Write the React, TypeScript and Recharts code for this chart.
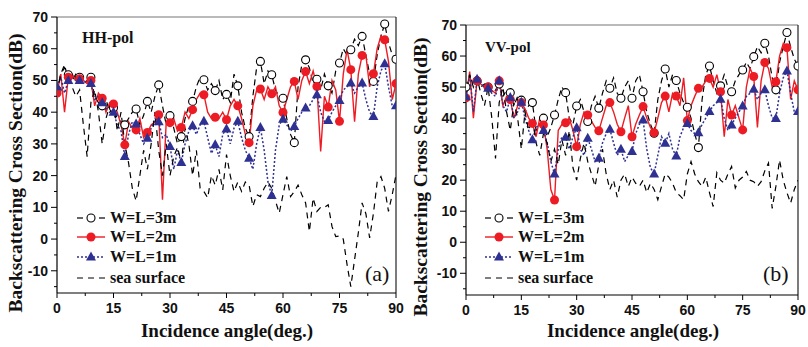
import { LineChart, Line, XAxis, YAxis, ReferenceLine } from "recharts";

// incidence angle, 1 deg steps
const angles = [
  0, 1, 2, 3, 4, 5, 6, 7, 8, 9, 10, 11, 12, 13, 14, 15, 16, 17, 18, 19, 20, 21, 22, 23, 24, 25, 26, 27, 28, 29,
  30, 31, 32, 33, 34, 35, 36, 37, 38, 39, 40, 41, 42, 43, 44, 45, 46, 47, 48, 49, 50, 51, 52, 53, 54, 55, 56, 57, 58, 59,
  60, 61, 62, 63, 64, 65, 66, 67, 68, 69, 70, 71, 72, 73, 74, 75, 76, 77, 78, 79, 80, 81, 82, 83, 84, 85, 86, 87, 88, 89, 90,
];

// HH-pol
const hh3m = [
  47, 52, 54, 51.8, 50, 52, 51, 49, 50, 51, 45, 43, 42, 44, 40, 41.4, 38, 37, 36, 38, 40, 41, 36, 39, 43.4, 40, 45, 48.6, 42, 36,
  38.9, 35, 30, 32.3, 38, 42, 43.4, 48, 51, 50.2, 47, 49, 46.8, 50, 44, 45.6, 43, 52, 48.3, 40, 35, 32.3, 45, 54, 56, 49, 53, 51.8, 47, 45,
  44.4, 38, 33, 30.4, 48, 55, 56.5, 54, 49, 50.4, 47, 52, 48.3, 46, 53, 55.5, 60, 58, 59.7, 63, 61, 63.9, 58, 52, 49.7, 58, 64, 67.8, 62, 58, 56.7,
];
const hh2m = [
  46, 52, 40, 51, 52, 50, 50.5, 50, 49, 50, 42, 46, 44.4, 40, 43, 42.6, 40, 36, 29.7, 37, 35, 34.4, 38, 32, 33.6, 36, 37, 39.2, 12.4, 37,
  36.7, 38, 34, 35.2, 40, 38, 40.8, 44, 46, 45.5, 40, 38, 38.4, 38, 40, 37.6, 42, 44, 42, 38, 33, 30.4, 42, 47, 47.3, 44, 48, 45.8, 48, 42,
  39.9, 44, 48, 49.7, 44, 50, 52.8, 49, 53, 48.1, 27.6, 45, 41.6, 50, 47, 37.1, 52, 59.7, 53.4, 37, 52, 57.9, 58, 48, 52.1, 60, 64, 62.8, 56, 44, 49,
];
const hh1m = [
  48, 51, 46, 50, 51, 50, 50, 49, 50, 49, 44, 45, 43, 41, 42, 40, 36, 34, 26, 33, 37, 36.3, 33, 30, 31.8, 35, 38, 37, 32, 33,
  29.2, 22, 28, 24.1, 30, 34, 35.7, 33, 36, 37.1, 32, 27, 29.7, 26, 33, 34.7, 30, 35, 37.1, 32, 28, 25.5, 22, 30, 35.2, 28, 18, 13.7, 28, 36,
  37.8, 36, 34, 35.5, 38, 40, 41.3, 42, 44, 45.5, 40, 37, 37.4, 40, 42, 43.7, 47, 48, 49.2, 46, 48, 49.2, 44, 40, 38.6, 48, 53, 55.3, 48, 42, 42,
];
const hhSea = [
  46, 52, 55, 50, 48, 45, 47, 36, 26, 43, 47, 40, 30, 38, 42, 44, 34, 40, 30, 24, 16, 12, 20, 28, 22, 30, 40, 28, 20, 30,
  20, 26, 29, 24, 35, 30, 20, 28, 16, 15, 13, 20, 17, 22, 15.5, 26.6, 20, 15, 18, 15, 18, 17, 10.3, 14, 13.4, 16, 18, 16, 12, 8.2,
  14, 19.7, 13.4, 15, 17, 14, 11.4, 2.4, 12.9, 8.7, 10, 10, 10.8, 4, 0.8, 1, 0, -8, -15, -6.5, 2, 11.4, 8, 0.4, 8, 18, 19.7, 16, 8.7, 14, 20.3,
];

// VV-pol
const vv3m = [
  50, 53, 51, 52, 50, 51, 50, 48, 49, 51, 47, 49, 48.2, 44, 47, 45.8, 42, 44, 45, 36, 38, 40, 34, 37, 41, 46, 50, 48.2, 40, 38,
  43.9, 46, 42, 38.9, 44, 47, 43.2, 48, 52, 49.6, 53, 48, 46.4, 50, 52, 46.4, 52, 54, 48.5, 42, 38, 35.1, 46, 52, 55.8, 50, 54, 52.1, 48, 45,
  43.5, 40, 35, 30.5, 46, 54, 56.8, 52, 48, 50.4, 54, 50, 48.5, 52, 54, 55.5, 58, 56, 59.8, 63, 61, 64.1, 60, 53, 49.1, 58, 63, 67.6, 63, 59, 56.8,
];
const vv2m = [
  46.5, 55, 40, 52, 51, 50, 50, 49, 48, 52, 44, 47, 46, 40, 44, 45, 43, 40, 38.3, 34, 40, 37.8, 30, 17, 13.6, 36, 38, 38.5, 40, 36,
  30.8, 38, 42, 41, 39, 37, 35.9, 40, 44, 45, 42, 38, 35.6, 40, 44, 34, 38, 41, 43.7, 40, 37, 35.3, 40, 45, 47.1, 42, 48, 47.1, 44, 53,
  39.2, 44, 47, 49.6, 50, 52, 52.8, 50, 54, 48.5, 34, 46, 41, 44, 40, 36.2, 50, 56, 53.4, 37, 52, 57.9, 56, 50, 51.7, 60, 64, 62.7, 46, 52, 49.1,
];
const vv1m = [
  46.9, 54, 42, 52.5, 51, 50, 49.6, 48, 47, 52, 44, 42, 46.6, 40, 42, 45.1, 40, 36, 33, 37, 38, 36, 32, 26, 22, 30, 34, 33.8, 30, 34,
  36.9, 30, 28, 33.5, 30, 26, 27.1, 32, 35, 36.4, 32, 28, 30, 26, 28, 29.2, 35, 38, 39.4, 30, 24, 22, 28, 34, 31.9, 35, 30, 27.8, 34, 37,
  38.3, 36, 35, 35.3, 38, 40, 42.1, 44, 45, 46.1, 40, 36, 37.8, 40, 42, 43.9, 47, 48, 49.3, 46, 48, 49.1, 44, 40, 39.9, 48, 53, 55.2, 48, 42, 42.1,
];
const vvSea = [
  46, 54, 50, 53, 48, 44, 50, 40, 27, 45, 50, 42, 36, 45, 40, 30, 42, 36, 40, 32, 28, 35, 32, 26, 30, 25, 33, 28, 36, 24,
  20, 27, 32, 26, 22, 18, 25, 30, 22, 17, 20, 14.5, 20, 22, 18, 21, 19, 18, 20, 16, 19, 17, 13.7, 18, 22, 21, 19, 16, 15, 13.7,
  22, 26, 22, 19.5, 18, 21, 16, 11.5, 22.4, 20, 19, 22, 24.4, 17.5, 20, 21, 22.8, 20, 19.5, 18, 19.5, 23, 25.5, 10.9, 18, 26.5, 20, 16, 12.6, 17, 20,
];

const yTicks = [-15, -10, -5, 0, 5, 10, 15, 20, 25, 30, 35, 40, 45, 50, 55, 60, 65, 70];
const xTicks = [0, 7.5, 15, 22.5, 30, 37.5, 45, 52.5, 60, 67.5, 75, 82.5, 90];

const RED = "#ed1c24";
const BLUE = "#2e3192";
const SANS = "'Liberation Sans', Arial, sans-serif";
const SERIF = "'Liberation Serif', 'Times New Roman', serif";

const buildRows = (s3: number[], s2: number[], s1: number[], sea: number[]) =>
  angles.map((a, i) => ({ angle: a, w3: s3[i], w2: s2[i], w1: s1[i], sea: sea[i] }));

const hhRows = buildRows(hh3m, hh2m, hh1m, hhSea);
const vvRows = buildRows(vv3m, vv2m, vv1m, vvSea);

const YTick = ({ x, y, payload }: any) => {
  const major = payload.value % 10 === 0;
  return (
    <g>
      <line x1={x - (major ? 6 : 3)} x2={x} y1={y} y2={y} stroke="#000" strokeWidth={1} />
      {major && (
        <text x={x - 9} y={y + 5} textAnchor="end" fontFamily={SANS} fontWeight="bold" fontSize={14} fill="#111">
          {payload.value}
        </text>
      )}
    </g>
  );
};

const XTick = ({ x, y, payload }: any) => {
  const major = payload.value % 15 === 0;
  return (
    <g>
      <line x1={x} x2={x} y1={y} y2={y + (major ? 5 : 3)} stroke="#000" strokeWidth={1} />
      {major && (
        <text x={x} y={y + 20} textAnchor="middle" fontFamily={SANS} fontWeight="bold" fontSize={14} fill="#111">
          {payload.value}
        </text>
      )}
    </g>
  );
};

const openDot = (p: any) =>
  p.index % 3 === 0 ? (
    <circle key={`o${p.index}`} cx={p.cx} cy={p.cy} r={4} fill="#fff" stroke="#000" strokeWidth={1.1} />
  ) : (
    <g key={`o${p.index}`} />
  );
const redDot = (p: any) =>
  p.index % 3 === 0 ? <circle key={`r${p.index}`} cx={p.cx} cy={p.cy} r={4.5} fill={RED} /> : <g key={`r${p.index}`} />;
const triDot = (p: any) =>
  p.index % 3 === 0 ? (
    <path key={`t${p.index}`} d={`M${p.cx},${p.cy - 5.5}L${p.cx + 5},${p.cy + 3.5}L${p.cx - 5},${p.cy + 3.5}Z`} fill={BLUE} />
  ) : (
    <g key={`t${p.index}`} />
  );

function Panel({ rows, left, yWidth, top, bottom, right }: any) {
  return (
    <div style={{ position: "absolute", left, top: 0 }}>
      <LineChart width={404} height={347} data={rows} margin={{ top, right, bottom, left: 0 }}>
        <XAxis
          dataKey="angle"
          type="number"
          domain={[0, 90]}
          ticks={xTicks}
          interval={0}
          height={30}
          tickSize={0}
          tickMargin={0}
          tickLine={false}
          tick={<XTick />}
          axisLine={{ stroke: "#000", strokeWidth: 1.2 }}
          allowDataOverflow
        />
        <YAxis
          type="number"
          domain={[-17, 70]}
          ticks={yTicks}
          interval={0}
          width={yWidth}
          tickSize={0}
          tickMargin={0}
          tickLine={false}
          tick={<YTick />}
          axisLine={{ stroke: "#000", strokeWidth: 1.2 }}
          allowDataOverflow
        />
        <ReferenceLine y={70} stroke="#777" strokeWidth={1.2} />
        <ReferenceLine x={90} stroke="#222" strokeWidth={1.2} />
        <Line dataKey="w3" stroke="#000" strokeWidth={1.2} strokeDasharray="6 4" dot={openDot} isAnimationActive={false} />
        <Line dataKey="w2" stroke={RED} strokeWidth={1.4} dot={redDot} isAnimationActive={false} />
        <Line dataKey="w1" stroke={BLUE} strokeWidth={1.5} strokeDasharray="2 2" dot={triDot} isAnimationActive={false} />
        <Line dataKey="sea" stroke="#000" strokeWidth={1.2} strokeDasharray="6 5" dot={false} isAnimationActive={false} />
      </LineChart>
    </div>
  );
}

function LegendBlock({ x, y }: { x: number; y: number }) {
  const t = { fontFamily: SERIF, fontWeight: "bold" as const, fontSize: 16, fill: "#111" };
  return (
    <g>
      <line x1={x} x2={x + 6} y1={y} y2={y} stroke="#000" strokeWidth={1.2} />
      <circle cx={x + 14} cy={y} r={4} fill="#fff" stroke="#000" strokeWidth={1.1} />
      <line x1={x + 22} x2={x + 28} y1={y} y2={y} stroke="#000" strokeWidth={1.2} />
      <text x={x + 33} y={y + 5} {...t}>W=L=3m</text>

      <line x1={x} x2={x + 28} y1={y + 19} y2={y + 19} stroke={RED} strokeWidth={1.4} />
      <circle cx={x + 14} cy={y + 19} r={4.5} fill={RED} />
      <text x={x + 33} y={y + 24} {...t}>W=L=2m</text>

      <line x1={x} x2={x + 28} y1={y + 39} y2={y + 39} stroke={BLUE} strokeWidth={1.5} strokeDasharray="2 2" />
      <path d={`M${x + 14},${y + 33.5}L${x + 19},${y + 42.5}L${x + 9},${y + 42.5}Z`} fill={BLUE} />
      <text x={x + 33} y={y + 44} {...t}>W=L=1m</text>

      <line x1={x} x2={x + 28} y1={y + 60} y2={y + 60} stroke="#000" strokeWidth={1.2} strokeDasharray="6 5" />
      <text x={x + 33} y={y + 65} {...t}>sea surface</text>
    </g>
  );
}

export default function App() {
  const yTitle = { fontFamily: SERIF, fontWeight: "bold" as const, fontSize: 19.5, fill: "#111", textAnchor: "middle" as const };
  return (
    <div style={{ position: "relative", width: 808, height: 347, background: "#fff", overflow: "hidden" }}>
      <style>{"body{margin:0}"}</style>
      <Panel rows={hhRows} left={0} yWidth={57} top={17} bottom={24} right={8} />
      <Panel rows={vvRows} left={404} yWidth={62} top={25} bottom={22} right={10} />
      <svg width={808} height={347} style={{ position: "absolute", left: 0, top: 0, pointerEvents: "none" }}>
        <text transform="translate(22,173) rotate(-90)" {...yTitle}>Backscattering Cross Section(dB)</text>
        <text transform="translate(427,177) rotate(-90)" {...yTitle}>Backscattering Cross Section(dB)</text>
        <text x={227} y={337} textAnchor="middle" fontFamily={SERIF} fontWeight="bold" fontSize={19} fill="#111">
          Incidence angle(deg.)
        </text>
        <text x={633} y={337} textAnchor="middle" fontFamily={SERIF} fontWeight="bold" fontSize={19} fill="#111">
          Incidence angle(deg.)
        </text>
        <text x={82} y={43} fontFamily={SERIF} fontWeight="bold" fontSize={16} fill="#111">HH-pol</text>
        <text x={485} y={52} fontFamily={SERIF} fontWeight="bold" fontSize={15} fill="#111">VV-pol</text>
        <text x={365} y={281} fontFamily={SERIF} fontSize={22} fill="#111">(a)</text>
        <text x={763} y={281} fontFamily={SERIF} fontSize={22} fill="#111">(b)</text>
        <LegendBlock x={77} y={218} />
        <LegendBlock x={485} y={218} />
      </svg>
    </div>
  );
}
